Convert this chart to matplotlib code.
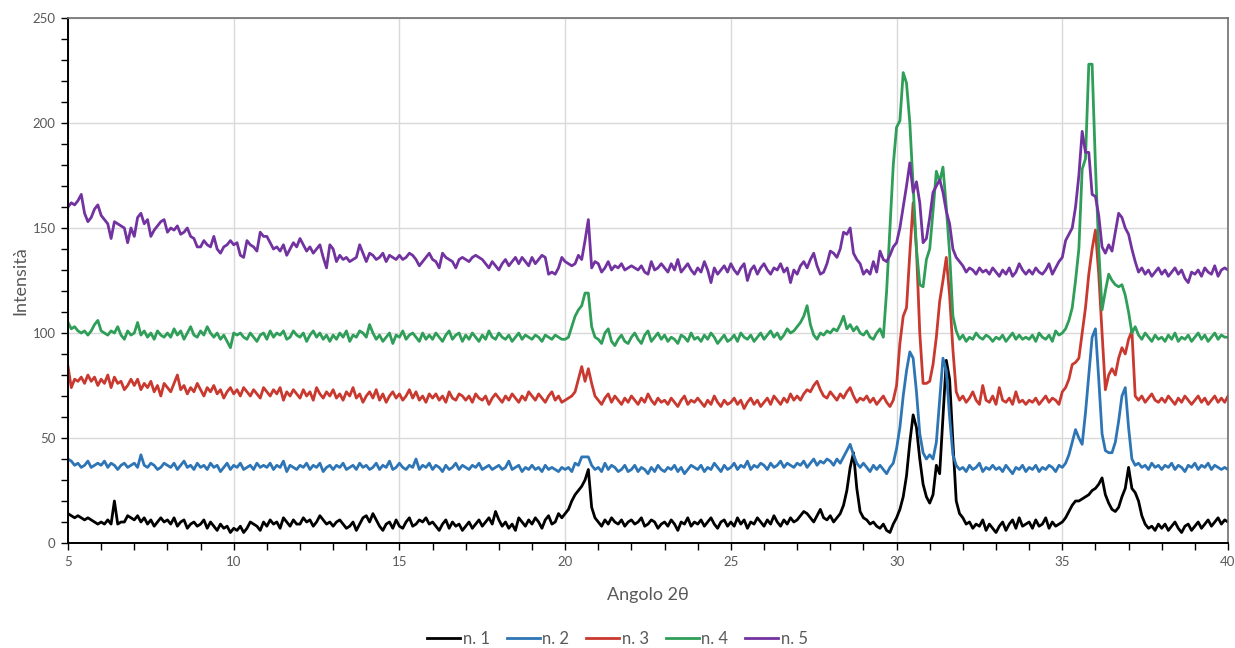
import numpy as np
import matplotlib
matplotlib.use("Agg")
import matplotlib.pyplot as plt
from matplotlib.ticker import MultipleLocator

plt.rcParams['font.family'] = ['Lato', 'DejaVu Sans']

angle_start = 5.0
angle_step = 0.1

n1 = [
    14,13,12,13,12,11,12,11,10,9,
    10,9,11,9,20,9,10,10,13,12,
    11,13,10,12,9,11,8,10,12,10,
    11,9,12,8,10,11,7,9,10,8,
    9,11,7,10,8,6,9,7,8,5,
    7,6,8,5,7,10,9,8,6,10,
    8,11,9,10,7,12,10,8,11,9,
    9,12,10,11,8,10,13,11,9,10,
    8,10,11,9,7,8,10,6,9,12,
    13,10,14,11,8,6,9,10,7,11,
    8,7,10,12,8,9,11,10,12,9,
    10,8,6,9,11,7,10,8,9,6,
    8,10,7,9,11,8,10,12,9,15,
    11,8,10,7,9,6,12,10,8,11,
    9,12,10,7,11,13,9,10,14,12,
    14,16,20,23,25,27,30,35,17,12,
    10,8,11,9,12,10,9,11,8,10,
    11,9,10,12,8,9,11,10,7,9,
    10,8,11,9,6,10,9,12,8,10,
    9,11,8,10,12,9,7,10,11,8,
    10,8,12,9,11,7,10,9,12,10,
    8,11,9,13,10,8,11,9,12,10,
    11,13,15,14,12,10,13,16,12,11,
    13,10,12,14,18,25,36,43,26,15,
    12,11,9,10,8,7,9,6,5,9,
    12,16,22,32,48,61,55,40,28,22,
    19,23,37,33,60,87,78,48,20,14,
    12,9,10,7,9,8,11,6,9,7,
    5,8,10,6,9,11,7,12,8,9,
    10,7,11,8,9,12,7,10,8,9,
    10,12,15,18,20,20,21,22,23,25,
    26,28,31,23,19,16,15,17,22,26,
    36,26,24,20,13,9,7,8,6,9,
    7,9,6,8,10,7,5,8,9,6,
    8,10,7,9,11,8,10,12,9,11,
    10,
]

n2 = [
    40,39,37,38,36,37,39,36,37,38,
    37,39,36,38,37,35,37,38,36,37,
    38,36,42,37,36,38,37,35,36,38,
    37,36,38,35,37,39,36,37,35,38,
    36,37,35,38,36,37,34,36,38,35,
    37,36,38,35,36,37,35,38,36,37,
    36,38,35,37,36,39,34,37,36,35,
    37,36,38,35,37,36,38,34,36,37,
    35,37,36,38,35,36,37,35,38,36,
    37,35,36,38,35,37,36,39,35,36,
    38,36,35,37,36,40,35,37,36,38,
    35,37,36,34,37,35,36,38,35,37,
    36,35,37,36,38,35,36,37,35,36,
    37,35,36,39,35,36,37,34,36,35,
    37,35,36,34,37,35,36,35,34,36,
    35,36,34,38,37,41,41,41,37,35,
    36,34,38,35,37,36,34,35,37,34,
    35,37,34,36,35,33,36,34,37,35,
    34,36,35,37,34,36,33,35,37,36,
    35,37,34,36,35,38,36,34,37,35,
    36,38,35,37,36,39,35,37,36,38,
    37,35,38,36,37,39,36,38,37,36,
    38,37,39,36,38,40,37,39,38,40,
    39,37,40,38,41,44,47,42,38,36,
    38,36,34,37,35,37,35,33,36,38,
    45,55,70,82,91,88,72,52,43,40,
    42,40,48,68,88,82,60,42,37,35,
    36,34,37,35,36,38,34,36,35,37,
    35,36,34,37,35,33,36,35,37,34,
    36,35,37,34,36,35,37,36,34,37,
    36,38,42,48,54,50,47,62,80,98,
    102,78,52,44,43,43,48,58,70,74,
    55,40,37,38,36,37,35,38,36,37,
    35,37,36,38,35,37,36,34,37,36,
    38,35,37,36,38,35,37,36,35,36,
    35,
]

n3 = [
    84,74,78,77,79,76,80,77,79,75,
    78,76,80,74,79,76,77,73,75,78,
    75,78,73,76,74,77,72,75,70,76,
    74,72,76,80,73,75,71,74,72,76,
    73,70,74,72,75,71,73,69,72,74,
    71,73,70,74,72,70,73,71,69,74,
    72,70,73,71,74,68,72,70,73,71,
    69,73,70,72,68,74,71,69,72,70,
    73,69,71,68,72,70,74,69,71,67,
    70,72,69,73,68,71,67,70,72,69,
    71,68,70,73,69,72,68,70,67,71,
    69,71,68,70,67,72,69,68,71,70,
    68,70,67,71,69,68,70,66,69,71,
    69,67,70,68,71,69,67,70,68,72,
    70,68,71,69,67,70,72,68,70,67,
    68,69,70,72,78,84,77,83,76,70,
    68,66,69,71,67,70,68,66,69,67,
    70,68,66,69,67,71,68,66,69,67,
    68,66,69,67,65,68,70,66,68,67,
    69,67,65,68,66,70,67,65,68,66,
    67,69,66,68,64,67,69,66,68,65,
    67,69,66,70,68,66,69,67,71,68,
    70,68,71,73,72,75,77,73,70,69,
    72,70,68,71,69,72,74,70,67,69,
    68,70,67,69,66,68,70,67,65,68,
    75,95,108,112,138,162,140,100,76,76,
    77,85,98,115,125,136,118,92,72,68,
    70,67,69,72,68,66,75,68,67,70,
    66,74,68,67,69,66,72,67,68,66,
    68,67,69,66,68,70,67,69,68,66,
    72,74,78,85,86,88,100,112,128,140,
    149,128,100,73,80,83,80,88,93,90,
    97,101,70,68,70,67,69,71,68,67,
    69,67,70,68,66,69,67,70,68,66,
    68,70,67,69,66,68,70,67,69,67,
    70,
]

n4 = [
    105,102,103,101,100,101,99,101,104,106,
    101,100,99,101,100,103,99,97,101,99,
    100,105,99,101,98,100,97,101,99,98,
    100,98,102,99,101,97,100,103,99,98,
    101,99,103,100,98,100,97,99,96,93,
    100,99,100,98,97,100,98,96,99,100,
    97,101,98,100,99,101,97,98,101,99,
    98,100,96,99,101,98,100,97,99,96,
    99,97,100,98,101,96,99,98,101,100,
    98,104,100,97,99,96,98,100,95,99,
    98,101,97,99,100,98,96,100,97,99,
    97,100,98,96,99,101,97,99,100,96,
    99,97,100,98,96,99,97,101,98,97,
    100,98,97,99,96,98,100,97,99,98,
    97,99,98,96,99,98,97,99,98,97,
    97,98,103,108,111,113,119,119,103,98,
    97,95,100,102,96,94,97,99,96,95,
    98,100,97,95,99,101,96,98,100,97,
    99,96,98,97,95,99,98,96,100,97,
    98,96,99,97,100,98,95,97,99,96,
    97,99,96,100,98,97,99,96,98,100,
    97,99,101,98,100,97,99,102,100,101,
    103,105,108,113,104,99,97,100,99,101,
    100,102,101,104,108,102,104,101,103,100,
    99,101,98,97,100,102,98,120,150,180,
    198,201,224,219,200,170,140,123,122,135,
    140,158,177,172,179,160,138,108,101,97,
    99,96,98,97,100,98,97,99,98,96,
    98,97,99,96,98,100,97,99,97,98,
    97,99,96,100,98,97,99,96,101,99,
    100,102,106,112,125,140,178,183,228,228,
    180,140,111,120,128,125,123,122,123,118,
    110,100,103,99,97,100,98,96,99,97,
    98,96,99,97,100,96,98,97,99,96,
    98,100,97,99,96,98,100,97,99,98,
    98,
]

n5 = [
    160,162,161,163,166,157,153,155,159,161,
    156,154,152,145,153,152,151,150,143,150,
    146,155,157,152,154,146,149,151,153,154,
    148,150,149,151,147,148,150,146,145,141,
    141,144,142,141,146,140,138,141,142,144,
    142,143,137,136,144,142,141,139,148,146,
    146,143,140,141,139,142,137,140,143,141,
    145,142,139,141,138,140,142,136,131,142,
    140,134,137,135,136,134,135,136,142,138,
    134,138,137,135,136,138,134,137,136,135,
    137,135,136,138,137,135,132,134,136,138,
    135,134,131,138,136,135,134,131,135,136,
    135,134,136,137,136,135,133,131,134,132,
    130,133,135,132,134,136,133,136,134,132,
    136,133,135,137,136,128,129,128,131,136,
    134,133,132,133,137,135,144,154,131,134,
    133,129,131,134,130,132,131,133,130,131,
    132,131,130,132,129,128,134,130,131,133,
    131,129,133,130,135,129,131,133,130,128,
    131,129,134,130,124,131,128,130,132,129,
    133,130,128,131,133,125,130,132,128,131,
    133,130,128,131,130,133,129,131,124,130,
    128,132,134,131,135,138,132,128,129,133,
    139,138,136,140,148,147,150,138,135,133,
    128,130,128,134,129,139,135,134,137,141,
    143,150,160,170,181,167,172,162,143,145,
    155,167,170,173,167,158,152,140,136,134,
    132,129,131,130,128,131,129,130,128,131,
    129,127,130,128,131,127,129,133,130,128,
    130,128,131,129,128,130,133,128,131,134,
    136,144,147,150,160,175,196,186,186,166,
    165,156,141,138,142,139,148,157,155,150,
    147,140,134,129,131,128,130,127,129,131,
    128,130,127,129,131,128,130,126,124,129,
    128,130,127,131,129,128,132,127,130,131,
    130,
]

series_labels = ["n. 1", "n. 2", "n. 3", "n. 4", "n. 5"]
series_values = [n1, n2, n3, n4, n5]
series_colors = ["#000000", "#2e75b6", "#c9392f", "#2f9e58", "#7233a0"]

x_label = "Angolo 2θ"
y_label = "Intensità"

fig = plt.figure(figsize=(12.35, 6.48), dpi=100)
ax = fig.add_axes([68/1235, 1-543/648, (1228-68)/1235, (543-18)/648])

for vals, lab, col in zip(series_values, series_labels, series_colors):
    v = np.array(vals, dtype=float)
    x = angle_start + angle_step*np.arange(len(v))
    ax.plot(x, v, color=col, lw=2.0, label=lab, solid_joinstyle='round')

ax.set_xlim(5, 40)
ax.set_ylim(0, 250)
ax.xaxis.set_major_locator(MultipleLocator(5))
ax.xaxis.set_minor_locator(MultipleLocator(1))
ax.yaxis.set_major_locator(MultipleLocator(50))
ax.yaxis.set_minor_locator(MultipleLocator(10))
ax.grid(True, which='major', color='#d9d9d9', lw=1.0)
ax.set_axisbelow(True)

for s in ['left', 'bottom']:
    ax.spines[s].set_color('#000000')
    ax.spines[s].set_linewidth(1.4)
for s in ['top', 'right']:
    ax.spines[s].set_color('#6f6f6f')
    ax.spines[s].set_linewidth(1.2)

ax.tick_params(which='both', direction='out', length=5, width=1.0, color='#000000',
               top=False, right=False)
ax.tick_params(which='major', labelsize=9.5, labelcolor='#595959', pad=4)

ax.set_xlabel(x_label, fontsize=13, color='#595959', labelpad=14)
ax.set_ylabel(y_label, fontsize=13, color='#595959', labelpad=3)

fig.legend(loc='lower center', bbox_to_anchor=(0.5, -0.022), ncol=5, frameon=False,
           fontsize=12, handlelength=2.0, handletextpad=0.15, columnspacing=1.0,
           labelcolor='#595959')

fig.savefig("out.png", dpi=100)
